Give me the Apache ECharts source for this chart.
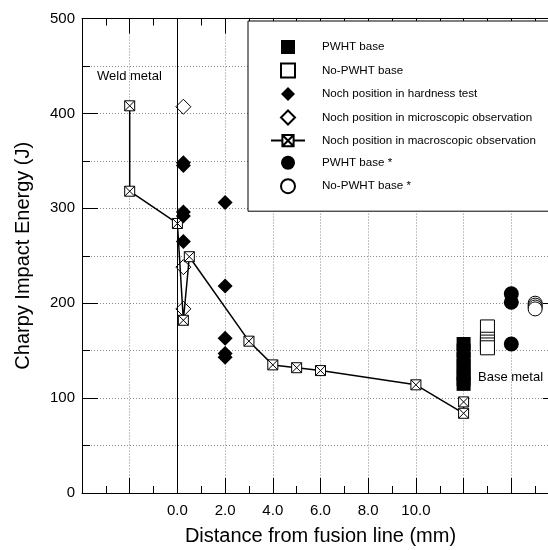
<!DOCTYPE html>
<html>
<head>
<meta charset="utf-8">
<script src="https://cdn.jsdelivr.net/npm/echarts@6/dist/echarts.min.js"></script>
<style>
  html, body { margin: 0; padding: 0; background: #fff; }
  #main { width: 548px; height: 550px; }
</style>
</head>
<body>
<div id="main"></div>
<script>
// x ticks (mm), only these get a label
var xLabels = [0, 2, 4, 6, 8, 10]

// base metal, PWHT / no PWHT (x = 12, 13)
var pwhtBaseX = [12, 12, 12, 12, 12, 12, 12]
var pwhtBaseY = [157, 150, 141, 134, 126, 120, 115]
var noPwhtBaseX = [13, 13, 13, 13, 13]
var noPwhtBaseY = [175, 162, 159, 156, 153]

// notch positions
var hardnessX = [0.25, 0.25, 0.25, 0.25, 0.25, 2, 2, 2, 2, 2]
var hardnessY = [348, 345, 296, 292, 265, 306, 218, 163, 147, 143]
var microX = [0.25, 0.25, 0.25]
var microY = [407, 238, 194]
var macroX = [-2, -2, 0, 0.25, 0.5, 3, 4, 5, 6, 10, 12, 12]
var macroY = [408, 318, 284, 182, 249, 160, 135, 132, 129, 114, 84, 96]

// base metal marked with *
var pwhtStarX = [14, 14, 14]
var pwhtStarY = [210, 201, 157]
var noPwhtStarX = [15, 15, 15, 15]
var noPwhtStarY = [200, 198, 196, 194]

var font = 'Liberation Sans, Arial, sans-serif'
// path symbols so the legend keeps them square
var square = 'path://M0,0L10,0L10,10L0,10Z'
var diamond = 'path://M5,0L10,5L5,10L0,5Z'
var crossSquare = 'path://M0,0L10,0L10,10L0,10Z M0,0L10,10 M10,0L0,10'

function pairs(xs, ys) {
    return xs.map(function (x, i) { return [x, ys[i]] })
}

var gridLine = { show: true, lineStyle: { color: '#888', type: [1, 2], width: 1 } }

var myChart = echarts.init(document.getElementById('main'))

var option = {
    backgroundColor: '#fff',
    animation: false,
    textStyle: { fontFamily: font, color: '#000' },
    // plot runs past the right edge (x max 16 is cut off)
    grid: { left: 82, top: 18.5, width: 477, height: 474.5, outerBoundsMode: 'none', containLabel: false },
    legend: {
        left: 248,
        top: 21,
        orient: 'vertical',
        padding: [19, 40, 17, 22],
        itemGap: 8.5,
        itemWidth: 34,
        itemHeight: 14,
        symbolKeepAspect: true,
        backgroundColor: '#fff',
        borderColor: '#000',
        borderWidth: 1,
        selectedMode: false,
        textStyle: { fontFamily: font, fontSize: 11.6, color: '#000', padding: [0, 0, 0, 12] },
        data: [
            'PWHT base',
            'No-PWHT base',
            'Noch position in hardness test',
            'Noch position in microscopic observation',
            'Noch position in macroscopic observation',
            'PWHT base *',
            'No-PWHT base *'
        ]
    },
    xAxis: [
        {
            type: 'value',
            min: -4,
            max: 16,
            interval: 2,
            name: 'Distance from fusion line (mm)',
            nameLocation: 'middle',
            nameGap: 33,
            nameTextStyle: { fontFamily: font, fontSize: 20, color: '#000' },
            axisLine: { onZero: false, lineStyle: { color: '#000', width: 1 } },
            axisTick: { inside: true, length: 15, lineStyle: { color: '#000' } },
            minorTick: { show: true, splitNumber: 2, length: 7, lineStyle: { color: '#000' } },
            axisLabel: {
                margin: 10,
                fontFamily: font,
                fontSize: 15,
                color: '#000',
                formatter: function (v) {
                    return xLabels.indexOf(v) >= 0 ? v.toFixed(1) : ''
                }
            },
            splitLine: gridLine
        },
        {
            type: 'value',
            position: 'top',
            min: -4,
            max: 16,
            interval: 2,
            axisLine: { onZero: false, lineStyle: { color: '#000', width: 1 } },
            axisTick: { inside: true, length: 15, lineStyle: { color: '#000' } },
            minorTick: { show: true, splitNumber: 2, length: 7, lineStyle: { color: '#000' } },
            axisLabel: { show: false },
            splitLine: { show: false }
        }
    ],
    yAxis: [
        {
            type: 'value',
            min: 0,
            max: 500,
            interval: 100,
            name: 'Charpy Impact Energy (J)',
            nameLocation: 'middle',
            nameGap: 49,
            nameTextStyle: { fontFamily: font, fontSize: 20, color: '#000' },
            axisLine: { show: true, onZero: false, lineStyle: { color: '#000', width: 1 } },
            axisTick: { show: true, inside: true, length: 16, lineStyle: { color: '#000' } },
            minorTick: { show: true, splitNumber: 2, length: 8, lineStyle: { color: '#000' } },
            axisLabel: { margin: 7, fontFamily: font, fontSize: 15, color: '#000' },
            splitLine: gridLine,
            minorSplitLine: gridLine
        },
        {
            type: 'value',
            position: 'right',
            min: 0,
            max: 500,
            interval: 100,
            axisLine: { show: true, onZero: false, lineStyle: { color: '#000', width: 1 } },
            axisTick: { show: true, inside: true, length: 16, lineStyle: { color: '#000' } },
            minorTick: { show: true, splitNumber: 2, length: 8, lineStyle: { color: '#000' } },
            axisLabel: { show: false },
            splitLine: { show: false }
        }
    ],
    graphic: [
        { type: 'text', left: 97, top: 70, style: { text: 'Weld metal', font: '13px ' + font, fill: '#000' } },
        { type: 'text', left: 478, top: 371, style: { text: 'Base metal', font: '13px ' + font, fill: '#000' } }
    ],
    series: [
        {
            name: 'Noch position in macroscopic observation',
            type: 'line',
            data: pairs(macroX, macroY),
            symbol: crossSquare,
            symbolSize: 10,
            symbolKeepAspect: true,
            showAllSymbol: true,
            z: 3,
            lineStyle: { color: '#000', width: 1.5 },
            itemStyle: { color: '#fff', borderColor: '#000', borderWidth: 1 },
            markLine: {
                silent: true,
                symbol: 'none',
                label: { show: false },
                lineStyle: { color: '#000', type: 'solid', width: 1 },
                data: [{ xAxis: 0 }]
            }
        },
        {
            name: 'PWHT base',
            type: 'scatter',
            data: pairs(pwhtBaseX, pwhtBaseY),
            symbol: square,
            symbolSize: 14,
            symbolKeepAspect: true,
            itemStyle: { color: '#000', opacity: 1 }
        },
        {
            name: 'No-PWHT base',
            type: 'scatter',
            data: pairs(noPwhtBaseX, noPwhtBaseY),
            symbol: square,
            symbolSize: 14,
            symbolKeepAspect: true,
            itemStyle: { color: '#fff', borderColor: '#000', borderWidth: 1, opacity: 1 }
        },
        {
            name: 'Noch position in hardness test',
            type: 'scatter',
            data: pairs(hardnessX, hardnessY),
            symbol: diamond,
            symbolSize: 15,
            symbolKeepAspect: true,
            z: 4,
            itemStyle: { color: '#000', opacity: 1 }
        },
        {
            name: 'Noch position in microscopic observation',
            type: 'scatter',
            data: pairs(microX, microY),
            symbol: diamond,
            symbolSize: 15,
            symbolKeepAspect: true,
            itemStyle: { color: '#fff', borderColor: '#000', borderWidth: 1, opacity: 1 }
        },
        {
            name: 'PWHT base *',
            type: 'scatter',
            data: pairs(pwhtStarX, pwhtStarY),
            symbol: 'circle',
            symbolSize: 15,
            itemStyle: { color: '#000', opacity: 1 }
        },
        {
            name: 'No-PWHT base *',
            type: 'scatter',
            data: pairs(noPwhtStarX, noPwhtStarY),
            symbol: 'circle',
            symbolSize: 14,
            itemStyle: { color: '#fff', borderColor: '#000', borderWidth: 1, opacity: 1 }
        }
    ]
}

myChart.setOption(option)
</script>
</body>
</html>
